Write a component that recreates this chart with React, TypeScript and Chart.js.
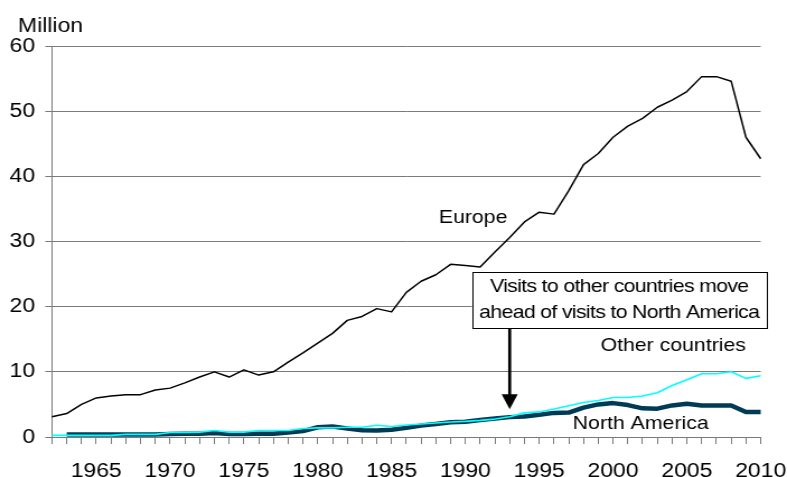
import { useEffect, useRef } from "react";
import { Chart, registerables } from "chart.js";

Chart.register(...registerables);

// Yearly visits abroad, million
const years = [
  1962, 1963, 1964, 1965, 1966, 1967, 1968, 1969, 1970, 1971,
  1972, 1973, 1974, 1975, 1976, 1977, 1978, 1979, 1980, 1981,
  1982, 1983, 1984, 1985, 1986, 1987, 1988, 1989, 1990, 1991,
  1992, 1993, 1994, 1995, 1996, 1997, 1998, 1999, 2000, 2001,
  2002, 2003, 2004, 2005, 2006, 2007, 2008, 2009, 2010,
];

const europe = [
  3.1, 3.6, 5.0, 6.0, 6.3, 6.5, 6.5, 7.2, 7.5, 8.3,
  9.2, 10.0, 9.2, 10.3, 9.5, 10.0, 11.5, 12.9, 14.4, 15.9,
  17.9, 18.5, 19.7, 19.2, 22.2, 23.9, 24.9, 26.5, 26.3, 26.1,
  28.4, 30.6, 33.0, 34.5, 34.2, 37.8, 41.8, 43.5, 46.0, 47.7,
  48.9, 50.6, 51.7, 53.0, 55.3, 55.3, 54.6, 46.0, 42.7,
];

const otherCountries = [
  0.25, 0.25, 0.25, 0.25, 0.25, 0.4, 0.4, 0.4, 0.7, 0.7,
  0.75, 1.0, 0.75, 0.75, 1.0, 1.0, 1.0, 1.3, 1.4, 1.4,
  1.5, 1.5, 1.8, 1.6, 1.85, 2.0, 2.15, 2.3, 2.4, 2.55,
  2.75, 3.1, 3.7, 3.85, 4.3, 4.8, 5.3, 5.6, 6.05, 6.05,
  6.3, 6.8, 7.9, 8.8, 9.7, 9.7, 10.0, 9.0, 9.4,
];

const northAmerica = [
  null, 0.4, 0.4, 0.4, 0.4, 0.4, 0.4, 0.4, 0.45, 0.5,
  0.5, 0.6, 0.45, 0.45, 0.5, 0.5, 0.7, 0.9, 1.5, 1.6,
  1.3, 1.05, 1.0, 1.1, 1.4, 1.75, 2.0, 2.25, 2.35, 2.6,
  2.85, 3.05, 3.15, 3.4, 3.7, 3.75, 4.5, 5.0, 5.2, 4.9,
  4.4, 4.35, 4.85, 5.1, 4.85, 4.85, 4.85, 3.85, 3.85,
];

const labelledYears = [1965, 1970, 1975, 1980, 1985, 1990, 1995, 2000, 2005, 2010];

const unitLabel = "Million";
const calloutLines = [
  "Visits to other countries move",
  "ahead of visits to North America",
];
const calloutYear = 1993;

// The chart is drawn on a narrower backing canvas and widened by CSS.
const CANVAS_W = 703;
const CANVAS_H = 477;
const DISPLAY_W = 787;

const FONT = '"Liberation Sans", Arial, Helvetica, sans-serif';
const GRID = "#7a7a7a";

const notesPlugin = {
  id: "notes",
  afterDatasetsDraw(chart: any) {
    const { ctx, chartArea, scales } = chart;
    const xs = scales.x;
    const ys = scales.y;
    const xAt = (yr: number) => xs.getPixelForValue(yr - years[0]);
    const yAt = (v: number) => ys.getPixelForValue(v);

    ctx.save();
    ctx.fillStyle = "#000";
    ctx.textBaseline = "alphabetic";

    // unit label above the value axis
    ctx.font = `20.5px ${FONT}`;
    ctx.textAlign = "left";
    ctx.fillText(unitLabel, chartArea.left - 30.3, chartArea.top - 14);

    // series names
    ctx.font = `19px ${FONT}`;
    ctx.fillText("Europe", xAt(1988.2), yAt(32.8));
    ctx.fillText("Other countries", xAt(1999.15), yAt(13.2));
    ctx.fillText("North America", xAt(1997.27), yAt(1.18));

    // callout box
    const bx0 = xAt(1990.44);
    const bx1 = xAt(2010.4);
    const by0 = yAt(25.3);
    const by1 = yAt(16.7);
    ctx.fillStyle = "#fff";
    ctx.fillRect(bx0, by0, bx1 - bx0, by1 - by0);
    ctx.strokeStyle = "#000";
    ctx.lineWidth = 1;
    ctx.strokeRect(Math.round(bx0) + 0.5, Math.round(by0) + 0.5, Math.round(bx1 - bx0), Math.round(by1 - by0));

    ctx.fillStyle = "#000";
    ctx.font = `19px ${FONT}`;
    ctx.textAlign = "center";
    (ctx as any).letterSpacing = "-0.6px";
    const cx = (bx0 + bx1) / 2;
    ctx.fillText(calloutLines[0], cx, by0 + 20);
    ctx.fillText(calloutLines[1], cx, by0 + 45.5);
    (ctx as any).letterSpacing = "0px";

    // arrow from the box down to the crossing point
    const ax = xAt(calloutYear);
    const tipY = yAt(4.25);
    const headH = 15;
    ctx.strokeStyle = "#000";
    ctx.lineWidth = 2.7;
    ctx.beginPath();
    ctx.moveTo(ax, by1);
    ctx.lineTo(ax, tipY - headH + 1);
    ctx.stroke();
    ctx.beginPath();
    ctx.moveTo(ax - 7.2, tipY - headH);
    ctx.lineTo(ax + 7.2, tipY - headH);
    ctx.lineTo(ax, tipY);
    ctx.closePath();
    ctx.fill();

    ctx.restore();
  },
};

export default function App() {
  const canvasRef = useRef<HTMLCanvasElement | null>(null);

  useEffect(() => {
    const canvas = canvasRef.current;
    if (!canvas) return;

    const chart = new Chart(canvas, {
      type: "line",
      data: {
        labels: years.map(String),
        datasets: [
          {
            label: "Europe",
            data: europe,
            borderColor: "#000000",
            borderWidth: 1.5,
            pointRadius: 0,
            tension: 0,
            borderJoinStyle: "round",
          },
          {
            label: "Other countries",
            data: otherCountries,
            borderColor: "#00ffff",
            borderWidth: 1.6,
            pointRadius: 0,
            tension: 0,
            borderJoinStyle: "round",
          },
          {
            label: "North America",
            data: northAmerica,
            borderColor: "#003b55",
            borderWidth: 4.5,
            pointRadius: 0,
            tension: 0,
            borderJoinStyle: "round",
          },
        ],
      },
      options: {
        responsive: false,
        animation: false,
        devicePixelRatio: 1,
        layout: { padding: { top: 46, right: 23.5, left: 0, bottom: 0 } },
        plugins: {
          legend: { display: false },
          tooltip: { enabled: false },
        },
        scales: {
          x: {
            type: "category",
            offset: false,
            grid: {
              display: true,
              drawOnChartArea: false,
              drawTicks: true,
              tickLength: 7,
              color: GRID,
            },
            border: { display: true, color: GRID, width: 1 },
            ticks: {
              autoSkip: false,
              maxRotation: 0,
              minRotation: 0,
              padding: 15.5,
              color: "#000",
              font: { family: FONT, size: 20.5 },
              callback: (_v: any, i: number) =>
                labelledYears.includes(years[i]) ? String(years[i]) : "",
            },
            afterFit: (scale: any) => {
              scale.height = 40;
              scale.paddingLeft = 0;
              scale.paddingRight = 0;
            },
          },
          y: {
            min: 0,
            max: 60,
            grid: {
              color: GRID,
              tickLength: 6,
              drawTicks: true,
            },
            border: { display: true, color: GRID, width: 1 },
            ticks: {
              stepSize: 10,
              padding: 9,
              color: "#000",
              font: { family: FONT, size: 20.5 },
            },
            afterFit: (scale: any) => {
              scale.width = 46.4;
            },
          },
        },
      },
      plugins: [notesPlugin],
    } as any);

    return () => chart.destroy();
  }, []);

  return (
    <div style={{ position: "fixed", left: 0, top: 0, width: DISPLAY_W, height: CANVAS_H, background: "#fff" }}>
      <canvas
        ref={canvasRef}
        width={CANVAS_W}
        height={CANVAS_H}
        style={{ width: `${DISPLAY_W}px`, height: `${CANVAS_H}px`, display: "block" }}
      />
    </div>
  );
}
